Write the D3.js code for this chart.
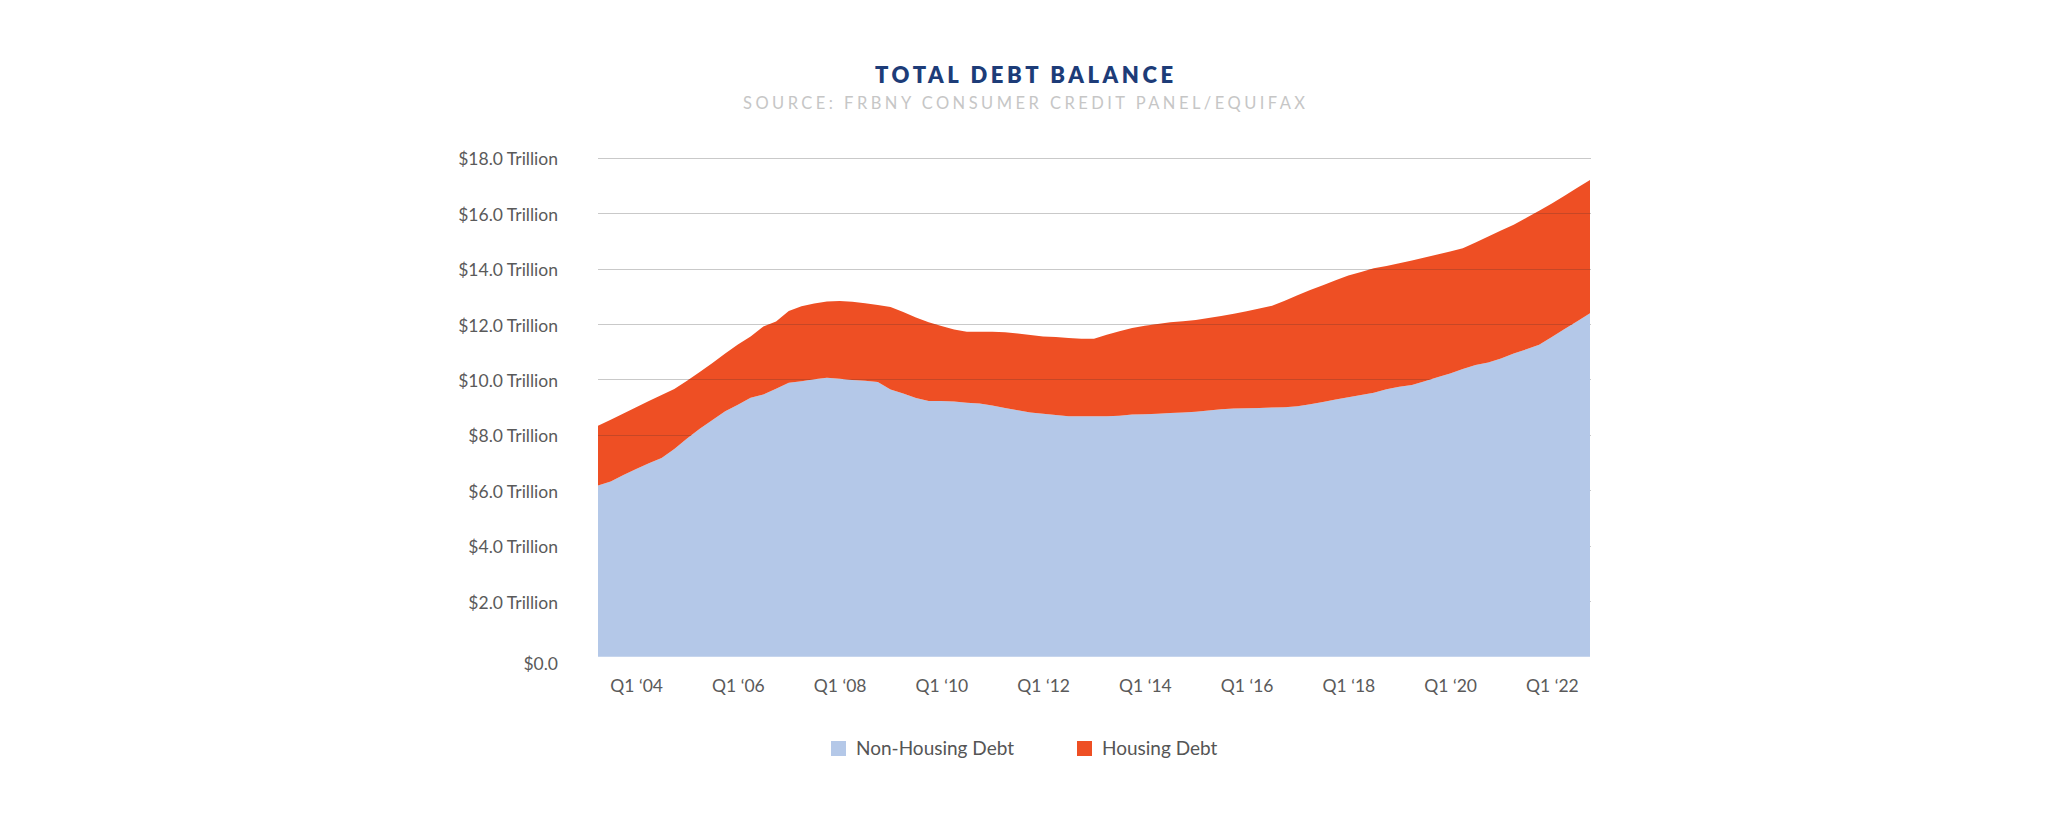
<!DOCTYPE html>
<html>
<head>
<meta charset="utf-8">
<script src="https://cdn.jsdelivr.net/npm/d3@7"></script>
<style>
  html, body { margin: 0; padding: 0; background: #ffffff; }
  svg { display: block; }
</style>
</head>
<body>
<svg id="chart" width="2048" height="819"></svg>
<script>
// ---- DATA (trillions of dollars, quarterly, Q2 2003 .. Q4 2022) ----
const firstYear = 2003, firstQuarter = 2, quarterCount = 79;
const quarters = [];
for (let i = 0; i < quarterCount; i++) {
  const qi = firstQuarter - 1 + i;
  quarters.push("Q" + (qi % 4 + 1) + " " + (firstYear + Math.floor(qi / 4)));
}

const nonHousingDebt = [
  6.18, 6.32, 6.55, 6.77, 6.98, 7.17, 7.49, 7.87, 8.22, 8.54,
  8.85, 9.09, 9.34, 9.46, 9.67, 9.88, 9.94, 10.01, 10.06, 10.03,
  9.98, 9.95, 9.91, 9.64, 9.49, 9.33, 9.22, 9.22, 9.21, 9.16,
  9.13, 9.06, 8.97, 8.89, 8.81, 8.76, 8.72, 8.67, 8.67, 8.67,
  8.67, 8.69, 8.74, 8.75, 8.76, 8.79, 8.81, 8.84, 8.88, 8.93,
  8.95, 8.96, 8.97, 8.99, 9.00, 9.03, 9.11, 9.19, 9.28, 9.36,
  9.44, 9.52, 9.65, 9.74, 9.80, 9.94, 10.08, 10.22, 10.38, 10.52,
  10.61, 10.76, 10.94, 11.09, 11.25, 11.53, 11.82, 12.10, 12.39
];

const housingDebt = [
  2.15, 2.23, 2.22, 2.23, 2.24, 2.27, 2.17, 2.08, 2.05, 2.05,
  2.09, 2.17, 2.21, 2.45, 2.42, 2.59, 2.70, 2.73, 2.75, 2.80,
  2.82, 2.80, 2.78, 2.97, 2.94, 2.91, 2.84, 2.71, 2.59, 2.56,
  2.59, 2.66, 2.73, 2.77, 2.79, 2.79, 2.81, 2.83, 2.80, 2.80,
  2.94, 3.05, 3.12, 3.19, 3.24, 3.27, 3.29, 3.31, 3.34, 3.36,
  3.42, 3.50, 3.59, 3.67, 3.84, 4.01, 4.12, 4.21, 4.30, 4.39,
  4.44, 4.49, 4.44, 4.45, 4.49, 4.46, 4.43, 4.40, 4.35, 4.42,
  4.55, 4.61, 4.64, 4.74, 4.84, 4.82, 4.81, 4.82, 4.81
];

const seriesNames = ["Non-Housing Debt", "Housing Debt"];
const seriesColors = ["#b4c8e8", "#ee4f24"];

const yTickValues = [0, 2, 4, 6, 8, 10, 12, 14, 16, 18];
const yTickLabels = ["$0.0", "$2.0 Trillion", "$4.0 Trillion", "$6.0 Trillion", "$8.0 Trillion",
                     "$10.0 Trillion", "$12.0 Trillion", "$14.0 Trillion", "$16.0 Trillion", "$18.0 Trillion"];

const xTickQuarters = ["Q1 2004", "Q1 2006", "Q1 2008", "Q1 2010", "Q1 2012",
                       "Q1 2014", "Q1 2016", "Q1 2018", "Q1 2020", "Q1 2022"];
const xTickLabels = ["Q1 \u201804", "Q1 \u201806", "Q1 \u201808", "Q1 \u201810", "Q1 \u201812",
                     "Q1 \u201814", "Q1 \u201816", "Q1 \u201818", "Q1 \u201820", "Q1 \u201822"];

const titleText = "TOTAL DEBT BALANCE";
const subtitleText = "SOURCE: FRBNY CONSUMER CREDIT PANEL/EQUIFAX";

// ---- LAYOUT ----
const plot = { left: 598, right: 1590, top: 157.7, bottom: 656.7 };
const FONT = "Lato, 'Open Sans', 'DejaVu Sans', sans-serif";

const svg = d3.select("#chart");

const x = d3.scalePoint().domain(quarters).range([plot.left, plot.right]);
const y = d3.scaleLinear().domain([0, 18]).range([plot.bottom, plot.top]);

const rows = quarters.map((q, i) => ({ q, nh: nonHousingDebt[i], h: housingDebt[i] }));
const stack = d3.stack().keys(["nh", "h"]);
const stacked = stack(rows);

const area = d3.area()
  .x(d => x(d.data.q))
  .y0(d => y(d[0]))
  .y1(d => y(d[1]))
  .curve(d3.curveLinear);

// gridlines (behind)
const gridG = svg.append("g");
gridG.selectAll("line")
  .data(yTickValues.filter(v => v > 0))
  .join("line")
  .attr("x1", plot.left).attr("x2", plot.right + 1)
  .attr("y1", d => Math.round(y(d)) + 0.5).attr("y2", d => Math.round(y(d)) + 0.5)
  .attr("stroke", "#c9c9c9").attr("stroke-width", 1);

// areas
svg.append("g").selectAll("path")
  .data(stacked)
  .join("path")
  .attr("d", area)
  .attr("fill", (d, i) => seriesColors[i]);

// faint gridlines visible over the housing band
svg.append("clipPath").attr("id", "housingClip")
  .append("path").attr("d", area(stacked[1]));
svg.append("g").attr("clip-path", "url(#housingClip)")
  .selectAll("line")
  .data(yTickValues.filter(v => v > 0))
  .join("line")
  .attr("x1", plot.left).attr("x2", plot.right + 1)
  .attr("y1", d => Math.round(y(d)) + 0.5).attr("y2", d => Math.round(y(d)) + 0.5)
  .attr("stroke", "#7a3a2a").attr("stroke-opacity", 0.35).attr("stroke-width", 1);

// y axis labels
const yAxis = d3.axisLeft(y)
  .tickValues(yTickValues)
  .tickFormat((d, i) => yTickLabels[i])
  .tickSize(0)
  .tickPadding(0);
const yG = svg.append("g").attr("transform", "translate(558,0)").call(yAxis);
yG.select(".domain").remove();
yG.selectAll("text")
  .attr("font-family", FONT).attr("font-size", 17.5).attr("fill", "#5a5a5a")
  .attr("dy", (d) => d === 0 ? "0.75em" : "0.4em");

// x axis labels
const xAxis = d3.axisBottom(x)
  .tickValues(xTickQuarters)
  .tickFormat((d, i) => xTickLabels[i])
  .tickSize(0)
  .tickPadding(0);
const xG = svg.append("g").attr("transform", "translate(0,686)").call(xAxis);
xG.select(".domain").remove();
xG.selectAll("text")
  .attr("font-family", FONT).attr("font-size", 17.5).attr("fill", "#5a5a5a")
  .attr("dy", "0.32em");

// title & subtitle, spaced to match widths
function spacedText(txt, cx, cyBase, size, weight, color, targetWidth) {
  const t = svg.append("text")
    .attr("x", cx).attr("y", cyBase)
    .attr("text-anchor", "middle")
    .attr("font-family", FONT).attr("font-size", size).attr("font-weight", weight)
    .attr("fill", color)
    .text(txt);
  const w = t.node().getComputedTextLength();
  const ls = Math.max(0, (targetWidth - w) / (txt.length - 1));
  t.attr("letter-spacing", ls + "px");
  // compensate for trailing spacing shifting the centre
  t.attr("x", cx + ls / 2);
  return t;
}
spacedText(titleText, 1024, 82.5, 22, 800, "#1d3c78", 298);
spacedText(subtitleText, 1024, 108.5, 16.5, 400, "#c6c6c6", 562);

// legend
const legendItems = [
  { name: seriesNames[0], color: seriesColors[0], sx: 831, tx: 856 },
  { name: seriesNames[1], color: seriesColors[1], sx: 1077, tx: 1102 }
];
const lg = svg.append("g");
lg.selectAll("rect").data(legendItems).join("rect")
  .attr("x", d => d.sx).attr("y", 741).attr("width", 15).attr("height", 15)
  .attr("fill", d => d.color);
lg.selectAll("text").data(legendItems).join("text")
  .attr("x", d => d.tx).attr("y", 748.5).attr("dy", "0.35em")
  .attr("font-family", FONT).attr("font-size", 19).attr("fill", "#555555")
  .text(d => d.name);
</script>
</body>
</html>
